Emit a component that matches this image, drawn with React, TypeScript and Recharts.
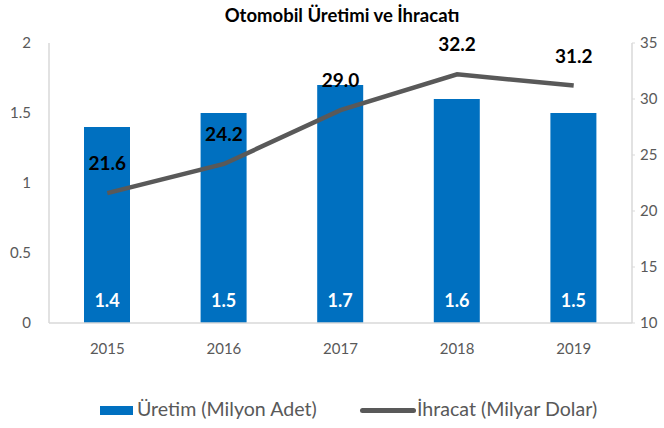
import React from 'react';
import {
  ComposedChart,
  Bar,
  Line,
  XAxis,
  YAxis,
  Legend,
  LabelList,
} from 'recharts';

const years = ['2015', '2016', '2017', '2018', '2019'];
const uretim = [1.4, 1.5, 1.7, 1.6, 1.5];
const ihracat = [21.6, 24.2, 29.0, 32.2, 31.2];
const leftTicks = [0, 0.5, 1, 1.5, 2];
const rightTicks = [10, 15, 20, 25, 30, 35];

const data = years.map((year, i) => ({
  year,
  uretim: uretim[i],
  ihracat: ihracat[i],
}));

const FONT = 'Lato, "Open Sans", sans-serif';
const BLUE = '#0070C0';
const GREY = '#595959';

const renderLegend = () => (
  <div style={{ position: 'relative', width: 664, height: 60, fontFamily: FONT, fontSize: 19.6, color: GREY }}>
    <div style={{ position: 'absolute', left: 100, top: 38, width: 33, height: 9, background: BLUE }} />
    <span style={{ position: 'absolute', left: 137, top: 29 }}>Üretim (Milyon Adet)</span>
    <div style={{ position: 'absolute', left: 360, top: 40, width: 56, height: 5, borderRadius: 3, background: GREY }} />
    <span style={{ position: 'absolute', left: 417, top: 29 }}>İhracat (Milyar Dolar)</span>
  </div>
);

const App = () => {
  return (
    <div style={{ position: 'absolute', left: 0, top: 0, width: 664, height: 428, background: '#fff' }}>
      <div
        style={{
          position: 'absolute',
          top: 4,
          left: 0,
          width: 664,
          textAlign: 'center',
          fontFamily: FONT,
          fontWeight: 700,
          fontSize: 18.5,
          color: '#000',
          paddingLeft: 10,
        }}
      >
        Otomobil Üretimi ve İhracatı
      </div>
      <ComposedChart
        width={664}
        height={428}
        data={data}
        margin={{ top: 43, right: 0, bottom: 0, left: 0 }}
      >
        <XAxis
          dataKey="year"
          axisLine={{ stroke: '#d9d9d9', strokeWidth: 1.5 }}
          tickLine={false}
          tickSize={0}
          tickMargin={20}
          height={45}
          tick={{ fill: GREY, fontSize: 15, fontFamily: FONT }}
        />
        <YAxis
          yAxisId="left"
          domain={[0, 2]}
          ticks={leftTicks}
          width={49}
          axisLine={{ stroke: '#d9d9d9', strokeWidth: 1.5 }}
          tickLine={false}
          tickSize={0}
          tickMargin={18}
          tick={{ fill: GREY, fontSize: 15, fontFamily: FONT }}
        />
        <YAxis
          yAxisId="right"
          orientation="right"
          domain={[10, 35]}
          ticks={rightTicks}
          width={32}
          axisLine={{ stroke: '#d9d9d9', strokeWidth: 1.5 }}
          tickLine={{ stroke: '#d9d9d9' }}
          tickSize={3}
          tickMargin={5}
          tick={{ fill: GREY, fontSize: 15, fontFamily: FONT }}
        />
        <Legend
          verticalAlign="bottom"
          height={60}
          content={renderLegend}
          wrapperStyle={{ left: 0, bottom: 0, width: 664, height: 60 }}
        />
        <Bar
          yAxisId="left"
          dataKey="uretim"
          name="Üretim (Milyon Adet)"
          fill={BLUE}
          barSize={46}
          isAnimationActive={false}
        >
          <LabelList
            dataKey="uretim"
            position="insideBottom"
            offset={16}
            formatter={(v: any) => Number(v).toFixed(1)}
            style={{ fill: '#fff', fontSize: 18, fontWeight: 700, fontFamily: FONT }}
          />
        </Bar>
        <Line
          yAxisId="right"
          dataKey="ihracat"
          name="İhracat (Milyar Dolar)"
          stroke={GREY}
          strokeWidth={4.5}
          dot={false}
          type="linear"
          isAnimationActive={false}
        >
          <LabelList
            dataKey="ihracat"
            position="top"
            offset={23}
            formatter={(v: any) => Number(v).toFixed(1)}
            style={{ fill: '#000', fontSize: 19, fontWeight: 700, fontFamily: FONT }}
          />
        </Line>
      </ComposedChart>
    </div>
  );
};

export default App;
